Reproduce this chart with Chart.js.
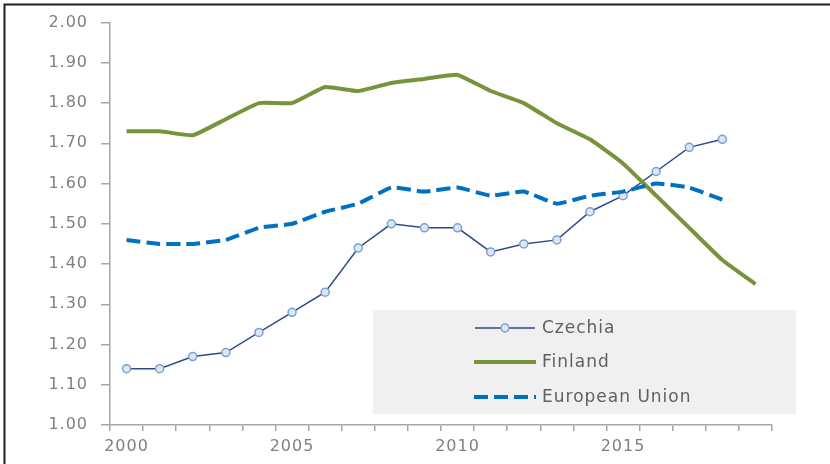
<!DOCTYPE html>
<html><head><meta charset="utf-8">
<script src="https://cdn.jsdelivr.net/npm/chart.js@4/dist/chart.umd.min.js"></script>
<style>html,body{margin:0;padding:0;background:#fff;overflow:hidden}#wrap{width:830px;height:464px;position:relative}</style>
</head><body><div id="wrap"><canvas id="c" width="830" height="464"></canvas></div>
<script>
const years = ['2000','2001','2002','2003','2004','2005','2006','2007','2008','2009','2010','2011','2012','2013','2014','2015','2016','2017','2018','2019'];
const czechia = [1.14,1.14,1.17,1.18,1.23,1.28,1.33,1.44,1.50,1.49,1.49,1.43,1.45,1.46,1.53,1.57,1.63,1.69,1.71,null];
const finland = [1.73,1.73,1.72,1.76,1.80,1.80,1.84,1.83,1.85,1.86,1.87,1.83,1.80,1.75,1.71,1.65,1.57,1.49,1.41,1.35];
const eu = [1.46,1.45,1.45,1.46,1.49,1.50,1.53,1.55,1.59,1.58,1.59,1.57,1.58,1.55,1.57,1.58,1.60,1.59,1.56,null];
const seriesNames = ['Czechia','Finland','European Union'];
const yMin = 1.0, yMax = 2.0, yStep = 0.1;

const COL_CZ = '#2f4a87', COL_CZ_PT = '#dde7f3', COL_CZ_PTB = '#7aa0d4';
const COL_FI = '#77933c', COL_EU = '#0070c0';
const AXIS = '#a6a6a6', TXT = '#808080';

const framePlugin = {
  id: 'frame',
  beforeDraw(chart) {
    const ctx = chart.ctx;
    ctx.save();
    ctx.fillStyle = '#fff';
    ctx.fillRect(0, 0, chart.width, chart.height);
    ctx.strokeStyle = '#1e1e1e';
    ctx.lineWidth = 2;
    ctx.beginPath();
    ctx.moveTo(4.5, chart.height);
    ctx.lineTo(4.5, 4.5);
    ctx.lineTo(chart.width, 4.5);
    ctx.stroke();
    ctx.restore();
    ctx.letterSpacing = '1px';
  }
};

const legendPlugin = {
  id: 'boxLegend',
  afterDraw(chart) {
    const ctx = chart.ctx;
    ctx.save();
    ctx.fillStyle = '#f0f0f0';
    ctx.fillRect(373, 310, 423, 104);
    const rows = [328, 362, 397];
    const x0 = 475, x1 = 535;
    ctx.font = '17px "DejaVu Sans"';
    ctx.letterSpacing = '1px';
    ctx.textBaseline = 'middle';
    // Czechia
    ctx.strokeStyle = COL_CZ; ctx.lineWidth = 1.5; ctx.setLineDash([]);
    ctx.beginPath(); ctx.moveTo(x0, rows[0]); ctx.lineTo(x1, rows[0]); ctx.stroke();
    ctx.beginPath(); ctx.arc((x0 + x1) / 2, rows[0], 4, 0, Math.PI * 2);
    ctx.fillStyle = COL_CZ_PT; ctx.fill();
    ctx.strokeStyle = COL_CZ_PTB; ctx.lineWidth = 1.5; ctx.stroke();
    // Finland
    ctx.strokeStyle = COL_FI; ctx.lineWidth = 4;
    ctx.beginPath(); ctx.moveTo(x0 - 1, rows[1]); ctx.lineTo(x1 + 1, rows[1]); ctx.stroke();
    // EU
    ctx.strokeStyle = COL_EU; ctx.lineWidth = 4; ctx.setLineDash([14, 6]);
    ctx.beginPath(); ctx.moveTo(x0 - 1, rows[2]); ctx.lineTo(x1 + 1, rows[2]); ctx.stroke();
    ctx.setLineDash([]);
    ctx.fillStyle = '#606060';
    seriesNames.forEach((n, i) => ctx.fillText(n, 542, rows[i] + 1));
    ctx.restore();
  }
};

new Chart(document.getElementById('c'), {
  type: 'line',
  data: {
    labels: years,
    datasets: [
      { label: seriesNames[0], data: czechia, order: 2, borderColor: COL_CZ, borderWidth: 1.5,
        pointRadius: 4, pointBackgroundColor: COL_CZ_PT, pointBorderColor: COL_CZ_PTB, pointBorderWidth: 1.5, tension: 0 },
      { label: seriesNames[1], data: finland, order: 1, borderColor: COL_FI, borderWidth: 4,
        pointRadius: 0, tension: 0.12 },
      { label: seriesNames[2], data: eu, order: 0, borderColor: COL_EU, borderWidth: 4, borderDash: [14, 6],
        pointRadius: 0, tension: 0.12 }
    ]
  },
  options: {
    responsive: false,
    animation: false,
    devicePixelRatio: 1,
    layout: { padding: { left: 0, top: 20, right: 58, bottom: 0 } },
    plugins: { legend: { display: false }, tooltip: { enabled: false } },
    scales: {
      x: {
        type: 'category',
        offset: true,
        grid: { offset: true, drawOnChartArea: false, drawTicks: true, tickLength: 6, color: AXIS, lineWidth: 1.5 },
        border: { color: AXIS, width: 1.5 },
        ticks: {
          autoSkip: false, maxRotation: 0, minRotation: 0, padding: 6,
          color: TXT, font: { family: 'DejaVu Sans', size: 16 },
          callback(v) { const y = years[v]; return (+y % 5 === 0) ? y : ''; }
        },
        afterFit(s) { s.height = 39; }
      },
      y: {
        min: yMin, max: yMax,
        grid: { drawOnChartArea: false, drawTicks: true, tickLength: 9, color: AXIS, lineWidth: 1.5 },
        border: { color: AXIS, width: 1.5 },
        ticks: {
          stepSize: yStep, padding: 13, color: TXT, font: { family: 'DejaVu Sans', size: 16 },
          callback(v) { return Number(v).toFixed(2); }
        },
        afterFit(s) { s.width = 110; }
      }
    }
  },
  plugins: [framePlugin, legendPlugin]
});
</script>
</body></html>
